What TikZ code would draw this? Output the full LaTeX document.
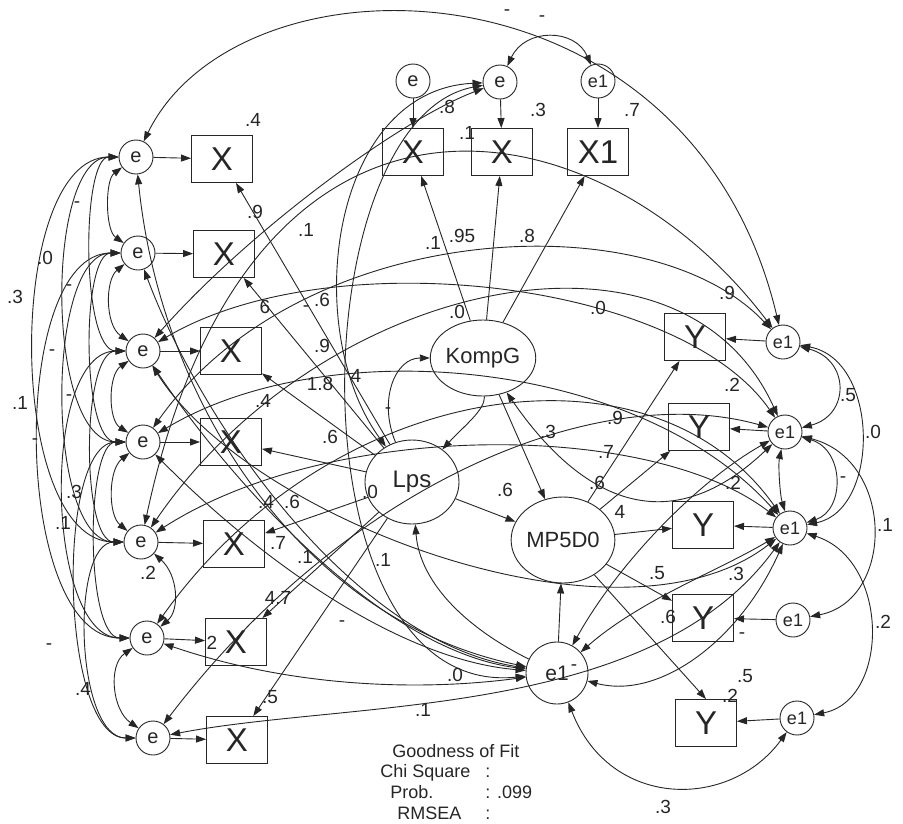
\documentclass[tikz,border=0pt]{standalone}
\usepackage{fontspec}
\setmainfont{Liberation Sans}
\usetikzlibrary{arrows.meta,shapes.geometric}
\definecolor{ink}{HTML}{262626}
\begin{document}
\begin{tikzpicture}[x=1pt,y=-1pt,
  line width=0.9pt,
  >={Triangle[length=10pt,width=7pt]},
  errc/.style={circle,draw=ink,minimum size=34pt,inner sep=0pt,text=ink,font=\fontsize{20}{20}\selectfont},
  errr/.style={circle,draw=ink,minimum size=34pt,inner sep=0pt,text=ink,font=\fontsize{18}{18}\selectfont},
  obs/.style={rectangle,draw=ink,minimum width=61pt,minimum height=47pt,inner sep=0pt,text=ink,font=\fontsize{33}{33}\selectfont},
  lat/.style={ellipse,draw=ink,inner sep=0pt,text=ink},
  lbl/.style={font=\fontsize{19}{19}\selectfont,text=ink,inner sep=0pt},
  gof/.style={font=\fontsize{18}{18}\selectfont,text=ink,inner sep=0pt},
  pth/.style={->,draw=ink},
  cov/.style={<->,draw=ink},
]
\useasboundingbox (0,0) rectangle (903,823);
\fill[white] (0,0) rectangle (903,823);

% ---- left column
\node[errc] (eL1) at (136,157) {e};
\node[errc] (eL2) at (138,253) {e};
\node[errc] (eL3) at (143,351) {e};
\node[errc] (eL4) at (143,442) {e};
\node[errc] (eL5) at (141,542) {e};
\node[errc] (eL6) at (147,638) {e};
\node[errc] (eL7) at (153,738) {e};
\node[obs] (XL1) at (222,159) {X};
\node[obs] (XL2) at (224,254) {X};
\node[obs] (XL3) at (231,351) {X};
\node[obs] (XL4) at (231,442) {X};
\node[obs] (XL5) at (234,544) {X};
\node[obs] (XL6) at (236,642) {X};
\node[obs] (XL7) at (237,740) {X};

% ---- top row
\node[errc] (eT1) at (413,81) {e};
\node[obs]  (XT1) at (413,152) {X};
\node[errc] (eT2) at (500,82) {e};
\node[obs]  (XT2) at (502,152) {X};
\node[errr] (eT3) at (598,81) {e1};
\node[obs]  (XT3) at (598,152) {X1};

% ---- latent variables
\node[lat,minimum width=102pt,minimum height=76pt,font=\fontsize{22}{22}\selectfont] (KompG) at (483,358) {KompG};
\node[lat,minimum width=94pt,minimum height=84pt,font=\fontsize{24}{24}\selectfont] (Lps) at (412,482) {Lps};
\node[lat,minimum width=102pt,minimum height=86pt,font=\fontsize{22}{22}\selectfont] (MP) at (563,540) {MP5D0};
\node[circle,draw=ink,minimum size=62pt,inner sep=0pt,text=ink,font=\fontsize{21}{21}\selectfont] (eB) at (557,673) {e1};

% ---- right column
\node[obs]  (Y1) at (695,337) {Y};
\node[errr] (eR1) at (783,342) {e1};
\node[obs]  (Y2) at (699,427) {Y};
\node[errr] (eR2) at (785,432) {e1};
\node[obs]  (Y3) at (703,525) {Y};
\node[errr] (eR3) at (790,528) {e1};
\node[obs]  (Y4) at (703,618) {Y};
\node[errr] (eR4) at (793,620) {e1};
\node[obs]  (Y5) at (706,723) {Y};
\node[errr] (eR5) at (797,718) {e1};

% ---- goodness of fit
\node[gof,anchor=base west] (g1) at (392,757) {Goodness of Fit};
\node[gof,anchor=base west] (g2) at (380,777) {Chi Square};
\node[gof,anchor=base west] (g3) at (390,798) {Prob.};
\node[gof,anchor=base west] (g4) at (397,819) {RMSEA};
\node[gof,anchor=base west] (g2c) at (485,777) {:};
\node[gof,anchor=base west] (g3c) at (485,798) {: .099};
\node[gof,anchor=base west] (g4c) at (485,819) {:};

% ---- error -> indicator paths
\foreach \i in {1,...,7} { \draw[pth] (eL\i) -- (XL\i); }
\foreach \i in {1,...,5} { \draw[pth] (eR\i) -- (Y\i); }
\draw[pth] (eT1) -- (XT1);
\draw[pth] (eT2) -- (XT2);
\draw[pth] (eT3) -- (XT3);

% ---- loadings
\draw[pth] (KompG) -- (XT1);
\draw[pth] (KompG) -- (XT2);
\draw[pth] (KompG) -- (XT3);
\foreach \i in {1,...,7} { \draw[pth] (Lps) -- (XL\i); }
\draw[pth] (MP) -- (Y1);
\draw[pth] (MP) -- (Y2);
\draw[pth] (MP) -- (Y3);
\draw[pth] (MP) -- (Y4);
\draw[pth] (MP) -- (Y5.north);

% ---- structural paths
\draw[pth] (KompG) -- (MP);
\draw[pth] (Lps) -- (MP);
\draw[pth] (eB) -- (MP);
\draw[pth] (Lps) .. controls (378,400) and (395,358) .. (KompG);
\draw[pth] (KompG) .. controls (485,410) and (465,425) .. (Lps);
\draw[pth] (eB) .. controls (470,630) and (420,585) .. (Lps);

% ---- top arcs
\draw[cov] (eL1) .. controls (240,-55) and (690,-50) .. (eR1);
\draw[cov] (eT2) .. controls (525,28) and (575,28) .. (eT3);
\draw[cov] (eL3) .. controls (250,230) and (400,120) .. (eT2);
\draw[cov] (eT2) .. controls (330,90) and (300,330) .. (Lps);
\draw[cov] (eT2) .. controls (300,120) and (290,700) .. (eB);
\draw[cov] (eL5) .. controls (250,30) and (600,100) .. (eR1);

% ---- long arcs across the middle
\draw[cov] (eL4) .. controls (300,220) and (650,200) .. (eR1);
\draw[cov] (eL5) .. controls (320,280) and (680,200) .. (eR2);
\draw[cov] (eL3) .. controls (330,240) and (680,280) .. (eR2);
\draw[cov] (eL6) .. controls (330,380) and (650,330) .. (eR3);
\draw[cov] (eL4) .. controls (330,330) and (640,360) .. (eR3);
\draw[cov] (eL5) .. controls (330,420) and (650,420) .. (eR3);
\draw[cov] (eL7) .. controls (350,480) and (600,380) .. (eR2);
\draw[cov] (eL3) .. controls (250,520) and (620,660) .. (eR3);
\draw[cov] (eL7) .. controls (350,700) and (650,720) .. (eR3);
\draw[cov] (KompG) .. controls (560,470) and (650,560) .. (eR2);

% ---- arcs to the bottom error
\draw[cov] (eL1) .. controls (160,400) and (300,620) .. (eB);
\draw[cov] (eL2) .. controls (200,420) and (350,640) .. (eB);
\draw[cov] (eL3) .. controls (230,480) and (380,650) .. (eB);
\draw[cov] (eL4) .. controls (260,560) and (400,660) .. (eB);
\draw[cov] (eL6) .. controls (300,690) and (430,690) .. (eB);
\draw[cov] (eB) .. controls (640,600) and (720,570) .. (eR3);
\draw[cov] (eB) .. controls (620,560) and (700,480) .. (eR2);
\draw[cov] (eB) .. controls (660,700) and (740,640) .. (eR3);
\draw[cov] (eB) .. controls (610,810) and (730,810) .. (eR5);

% ---- left covariances
\draw[cov] (eL1) .. controls (105,180) and (105,230) .. (eL2);
\draw[cov] (eL2) .. controls (105,280) and (105,325) .. (eL3);
\draw[cov] (eL3) .. controls (108,375) and (108,420) .. (eL4);
\draw[cov] (eL4) .. controls (108,470) and (108,515) .. (eL5);
\draw[cov] (eL6) .. controls (108,665) and (112,710) .. (eL7);
\draw[cov] (eL5) .. controls (178,575) and (180,610) .. (eL6);
\draw[cov] (eL1) .. controls (81,157) and (81,351) .. (eL3);
\draw[cov] (eL2) .. controls (81,253) and (81,442) .. (eL4);
\draw[cov] (eL3) .. controls (81,351) and (81,542) .. (eL5);
\draw[cov] (eL4) .. controls (85,442) and (85,638) .. (eL6);
\draw[cov] (eL5) .. controls (70,542) and (75,738) .. (eL7);
\draw[cov] (eL1) .. controls (45,157) and (45,442) .. (eL4);
\draw[cov] (eL2) .. controls (45,253) and (45,542) .. (eL5);
\draw[cov] (eL3) .. controls (40,351) and (45,638) .. (eL6);
\draw[cov] (eL4) .. controls (55,442) and (60,738) .. (eL7);
\draw[cov] (eL1) .. controls (5,157) and (5,542) .. (eL5);
\draw[cov] (eL2) .. controls (8,253) and (12,638) .. (eL6);

% ---- right covariances
\draw[cov] (eR1) .. controls (850,360) and (850,415) .. (eR2);
\draw[cov] (eR1) .. controls (880,360) and (880,510) .. (eR3);
\draw[cov] (eR2) .. controls (845,450) and (845,510) .. (eR3);
\draw[cov] (eR2) .. controls (778,465) and (780,495) .. (eR3);
\draw[cov] (eR2) .. controls (895,460) and (895,600) .. (eR4);
\draw[cov] (eR3) .. controls (890,560) and (890,700) .. (eR5);

% ---- coefficient labels
\foreach \t/\x/\y [count=\n] in {
  .4/253/120, .8/447/107, .1/467/133, .3/538/110, .7/632/110,
  -/507/13, -/542/19, .9/255/212, .1/306/230, .1/433/243,
  .95/462/236, .8/527/236, 6/265/307, -/306/309, .6/322/300,
  .0/457/312, .0/598/308, .9/727/293, .9/322/346, .4/263/401,
  1.8/320/384, 4/356/376, -/388/411, .6/330/437, .4/266/502,
  .6/292/502, .0/370/492, .6/505/490, .3/548/432, .7/606/452,
  .9/615/418, .6/597/483, 4/620/512, .2/732/385, .2/733/483,
  .5/848/395, .0/873/432, -/843/480, .1/885/525, .5/657/573,
  .3/736/574, .6/668/617, -/742/636, .2/883/622, .5/745/676,
  .2/730/696, .3/663/807, -/574/668, .0/455/675, .1/423/710,
  .5/270/697, .4/83/689, -/49/647, .2/148/573, 4.7/278/598,
  -/342/624, .7/278/543, .1/305/557, .1/383/560, .3/74/492,
  .1/63/523, -/35/442, .1/20/403, -/69/398, -/52/353,
  .3/15/297, -/69/288, .0/45/258, -/77/205, 2/212/643}
  { \node[lbl] (lab\n) at (\x,\y) {\t}; }
\end{tikzpicture}
\end{document}
